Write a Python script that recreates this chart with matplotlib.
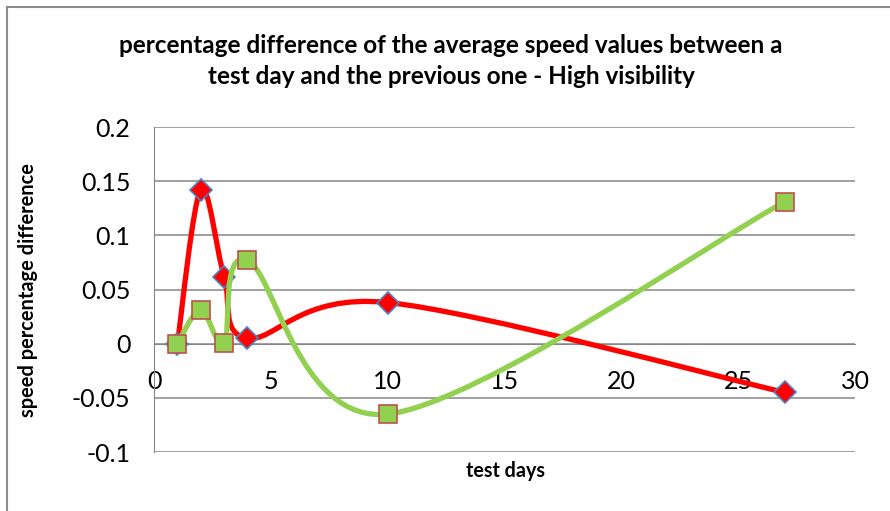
import numpy as np
import matplotlib.pyplot as plt
from matplotlib.path import Path
from matplotlib.patches import PathPatch
from matplotlib.lines import Line2D

days_red = [1, 2, 3, 4, 10, 27]
diff_red = [0.0, 0.142, 0.062, 0.005, 0.038, -0.045]
days_green = [1, 2, 3, 4, 10, 27]
diff_green = [0.0, 0.031, 0.001, 0.077, -0.065, 0.131]

title = 'percentage difference of the average speed values between a\ntest day and the previous one - High visibility'
xlabel = 'test days'
ylabel = 'speed percentage difference'
yticks = [-0.1, -0.05, 0, 0.05, 0.1, 0.15, 0.2]
ytick_labels = ['-0.1', '-0.05', '0', '0.05', '0.1', '0.15', '0.2']
xticks = [0, 5, 10, 15, 20, 25, 30]

plt.rcParams['font.family'] = ['Lato', 'DejaVu Sans']
grid_col = '#868686'


def smooth_path(ax, xs, ys):
    # excel-like smoothed line: catmull-rom bezier through the points (pixel space)
    pts = ax.transData.transform(np.column_stack([xs, ys]))
    n = len(pts)
    verts = [pts[0]]
    codes = [Path.MOVETO]
    for i in range(n - 1):
        p0 = pts[i - 1] if i > 0 else pts[i]
        p1 = pts[i]
        p2 = pts[i + 1]
        p3 = pts[i + 2] if i + 2 < n else pts[i + 1]
        c1 = p1 + (p2 - p0) / 6
        c2 = p2 - (p3 - p1) / 6
        verts += [c1, c2, p2]
        codes += [Path.CURVE4] * 3
    verts = ax.transData.inverted().transform(np.array(verts))
    return Path(verts, codes)


fig = plt.figure(figsize=(8.9, 5.11), dpi=100)
ax = fig.add_axes([154 / 890, 59 / 511, 701 / 890, 325 / 511])
ax.set_xlim(0, 30)
ax.set_ylim(-0.1, 0.2)

ax.set_yticks(yticks)
ax.set_yticklabels(ytick_labels)
ax.set_xticks(xticks)
ax.grid(axis='y', color=grid_col, linewidth=1.1)
ax.set_axisbelow(True)
for s in ['top', 'right']:
    ax.spines[s].set_visible(False)
ax.spines['left'].set_color(grid_col)
ax.spines['bottom'].set_position(('data', 0))
ax.spines['bottom'].set_color(grid_col)
ax.tick_params(axis='y', length=0, pad=17, labelsize=18)
ax.tick_params(axis='x', length=0, pad=19, labelsize=18)

series = [
    (days_red, diff_red, '#FF0000', 'D', '#FF0000', '#4F81BD', 11.5),
    (days_green, diff_green, '#92D050', 's', '#92D050', '#C0504D', 13.5),
]
for k, (xs, ys, lc, mk, mfc, mec, ms) in enumerate(series):
    path = smooth_path(ax, xs, ys)
    ax.add_patch(PathPatch(path, fill=False, edgecolor=lc, linewidth=3.8,
                           capstyle='round', joinstyle='round', zorder=3 + 2 * k))
    ax.plot(xs, ys, linestyle='none', marker=mk, markersize=ms,
            markerfacecolor=mfc, markeredgecolor=mec, markeredgewidth=1.2,
            zorder=4 + 2 * k, clip_on=False)

fig.text(451 / 890, 1 - 61 / 511, title, ha='center', va='center',
         fontsize=17.5, fontweight='bold', linespacing=1.38)
fig.text(505 / 890, 1 - 471 / 511, xlabel, ha='center', va='center',
         fontsize=14.2, fontweight='bold')
fig.text(28 / 890, 1 - 290 / 511, ylabel, ha='center', va='center',
         rotation=90, fontsize=14.4, fontweight='bold')

# chart frame, only top and left visible in the crop
fig.add_artist(Line2D([6.5 / 890, 6.5 / 890], [0, 1 - 7 / 511],
                      transform=fig.transFigure, color='#8c8c8c', linewidth=1.5))
fig.add_artist(Line2D([6.5 / 890, 1], [1 - 7 / 511, 1 - 7 / 511],
                      transform=fig.transFigure, color='#8c8c8c', linewidth=1.5))

fig.savefig('out.png', dpi=100)
